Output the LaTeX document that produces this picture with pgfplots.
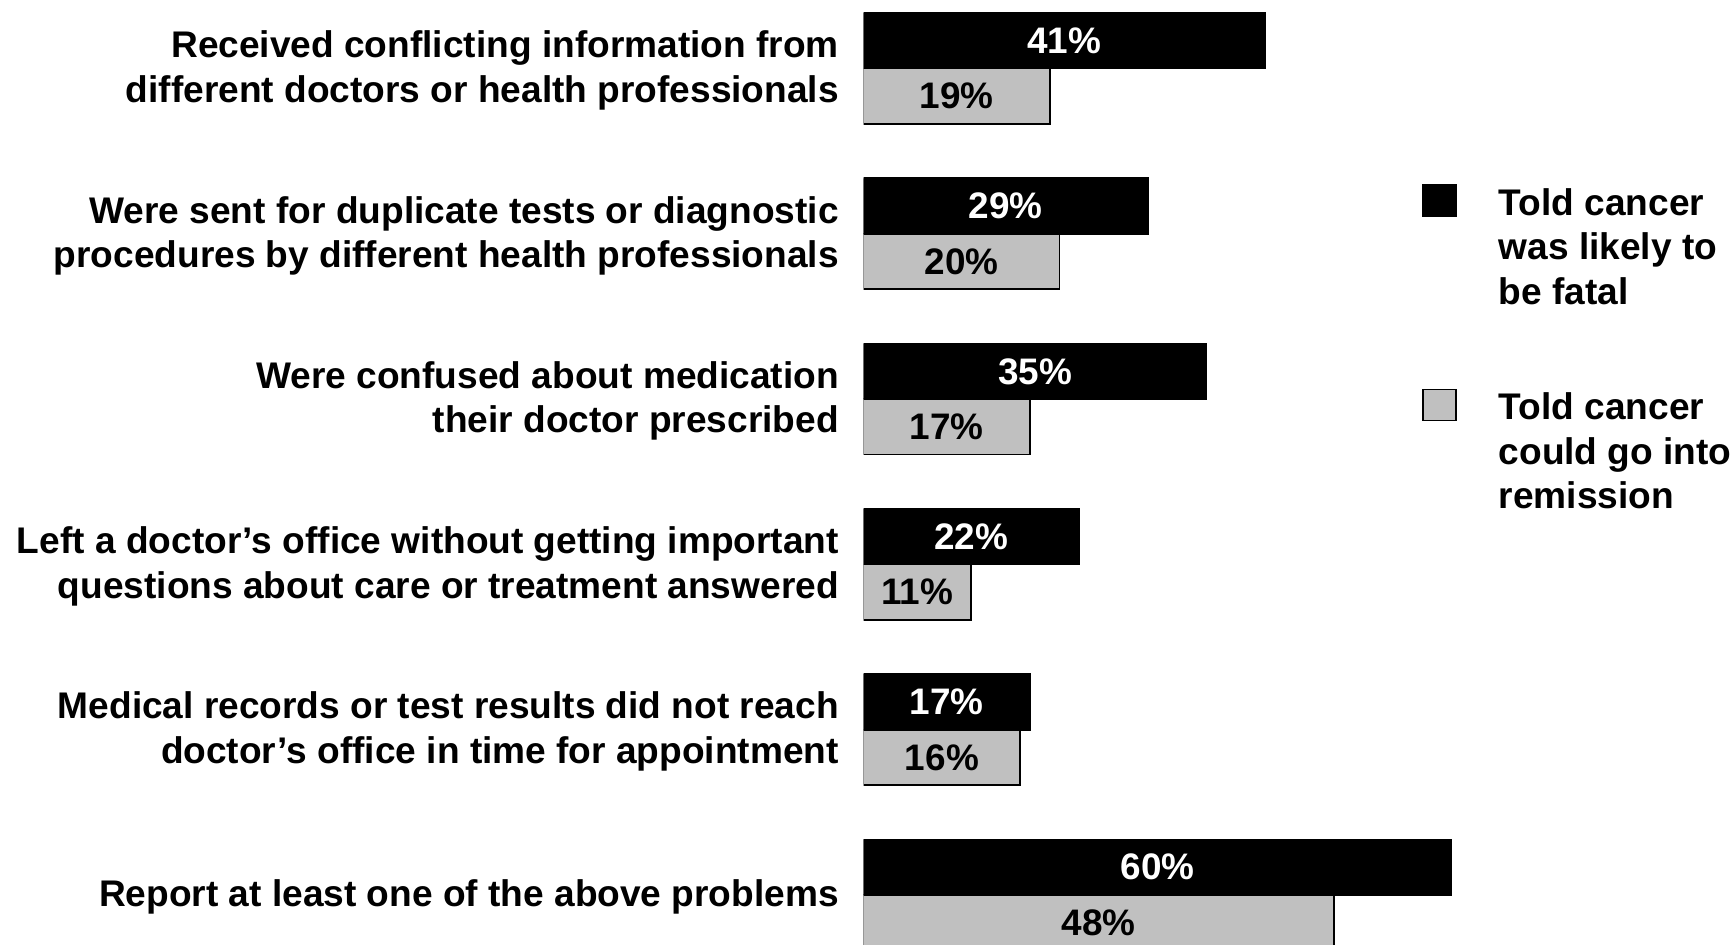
\documentclass[border=0pt]{standalone}
\usepackage{fontspec}
\setmainfont{Liberation Sans}
\usepackage{pgfplots}
\usepackage{pgfplotstable}
\pgfplotsset{compat=1.18}

\definecolor{bargray}{RGB}{192,192,192}
\newcommand{\lab}{\fontsize{10.55}{12.7}\selectfont\bfseries}
\newcommand{\pct}{\fontsize{10.5}{12}\selectfont\bfseries}

% y: 5 = top group, 0 = bottom group
\pgfplotstableread{
y fatal remission
5 41 19
4 29 20
3 35 17
2 22 11
1 17 16
0 60 48
}\datatable

\begin{document}
\begin{tikzpicture}
\useasboundingbox (0,0) rectangle (173.3mm,94.5mm);
\begin{axis}[
    at={(86.35mm,0mm)}, anchor=south west,
    scale only axis, width=86.24mm, height=94.5mm,
    xbar, bar width=5.55mm,
    xmin=0, xmax=88, ymin=-0.3025, ymax=5.4144,
    axis line style={draw=none},
    major tick length=0pt,
    xtick=\empty,
    ytick={0,1,2,3,4,5},
    yticklabels={
        {Report at least one of the above problems},
        {Medical records or test results did not reach\\doctor’s office in time for appointment},
        {Left a doctor’s office without getting important\\questions about care or treatment answered},
        {Were confused about medication\\their doctor prescribed},
        {Were sent for duplicate tests or diagnostic\\procedures by different health professionals},
        {Received conflicting information from\\different doctors or health professionals}},
    yticklabel style={align=right, font=\lab, inner sep=0pt, xshift=-2.4mm, yshift=-0.2mm},
    nodes near coords={\pgfmathprintnumber{\pgfplotspointmeta}\%},
    /pgf/number format/assume math mode=true,
    point meta=x,
    visualization depends on={rawx \as \rx},
    legend style={at={(0.6476,0.8052)}, anchor=north west, draw=none, fill=none,
        inner sep=0pt, outer sep=0pt, font=\lab, row sep=47.7pt, column sep=4.2mm,
        nodes={inner sep=0pt}},
    legend cell align=left,
    legend image code/.code={\draw[#1] (0mm,-1.4mm) rectangle (3.3mm,1.7mm);},
]
\addplot[fill=black, draw=black, line width=0.5pt, bar shift=2.775mm,
    every node near coord/.append style={anchor=center, text=white, font=\pct, xshift={-\rx*0.49mm}}]
    table[x=fatal, y=y] {\datatable};
\addlegendentry{\begin{tabular}[t]{@{}l@{}}Told cancer\\was likely to\\be fatal\end{tabular}}
\addplot[fill=bargray, draw=black, line width=0.5pt, bar shift=-2.775mm,
    every node near coord/.append style={anchor=center, text=black, font=\pct, xshift={-\rx*0.49mm}}]
    table[x=remission, y=y] {\datatable};
\addlegendentry{\begin{tabular}[t]{@{}l@{}}Told cancer\\could go into\\remission\end{tabular}}
\end{axis}
\end{tikzpicture}
\end{document}
